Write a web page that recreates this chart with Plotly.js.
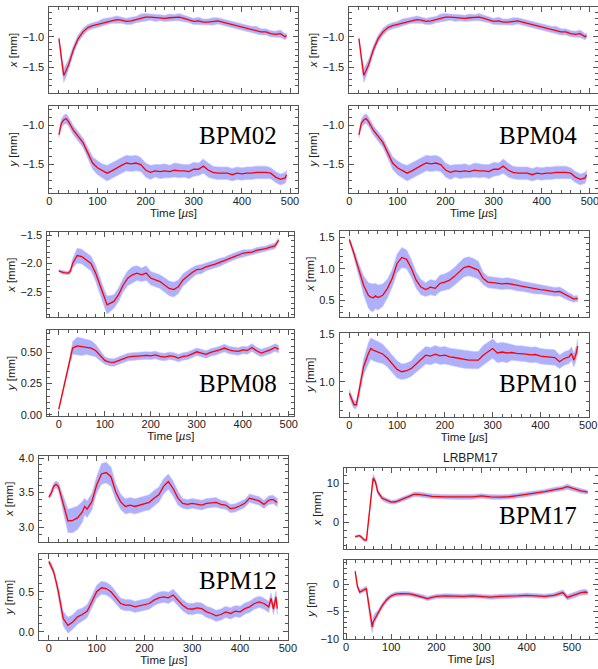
<!DOCTYPE html>
<html><head><meta charset="utf-8">
<script src="https://cdn.plot.ly/plotly-3.0.1.min.js"></script>
<style>html,body{margin:0;padding:0;background:#fff}#plot{width:598px;height:669px}</style>
</head><body><div id="plot"></div>
<script>
// ---------- DATA ----------
// BPM02 (BPM04 shows the same traces)
const t02 = [20,25,30,35,40,50,60,70,80,90,100,110,120,130,140,150,160,170,180,190,200,210,220,230,240,250,260,270,280,290,300,310,320,330,340,350,360,370,380,390,400,410,420,430,440,450,460,470,480,490,493];
const x02 = [-1.03,-1.38,-1.63,-1.55,-1.46,-1.21,-1.03,-0.92,-0.85,-0.82,-0.80,-0.77,-0.75,-0.73,-0.72,-0.73,-0.75,-0.74,-0.72,-0.69,-0.68,-0.68,-0.69,-0.69,-0.70,-0.69,-0.69,-0.68,-0.70,-0.72,-0.75,-0.74,-0.76,-0.76,-0.75,-0.74,-0.76,-0.78,-0.80,-0.82,-0.84,-0.86,-0.88,-0.89,-0.92,-0.92,-0.95,-0.96,-0.95,-1.00,-0.98];
const sx02 = [0.03,0.07,0.11,0.10,0.09,0.07,0.06,0.06,0.05,0.05,0.05,0.06,0.05,0.05,0.06,0.05,0.05,0.06,0.05,0.06,0.06,0.05,0.06,0.05,0.05,0.06,0.05,0.06,0.05,0.05,0.05,0.06,0.05,0.05,0.06,0.05,0.05,0.05,0.06,0.05,0.05,0.05,0.05,0.06,0.05,0.05,0.05,0.05,0.06,0.05,0.04];
const y02 = [-1.12,-0.97,-0.93,-0.91,-0.95,-1.06,-1.14,-1.22,-1.35,-1.48,-1.54,-1.58,-1.61,-1.58,-1.54,-1.51,-1.48,-1.49,-1.48,-1.50,-1.57,-1.60,-1.58,-1.59,-1.58,-1.59,-1.57,-1.58,-1.58,-1.59,-1.56,-1.56,-1.52,-1.57,-1.60,-1.61,-1.61,-1.61,-1.63,-1.61,-1.62,-1.61,-1.61,-1.60,-1.60,-1.60,-1.61,-1.66,-1.69,-1.67,-1.63];
const sy02 = [0.04,0.05,0.06,0.06,0.06,0.06,0.06,0.06,0.07,0.08,0.09,0.09,0.10,0.10,0.10,0.10,0.10,0.10,0.10,0.09,0.09,0.09,0.08,0.09,0.09,0.08,0.09,0.09,0.08,0.09,0.09,0.08,0.09,0.09,0.08,0.08,0.08,0.08,0.08,0.08,0.08,0.08,0.08,0.08,0.08,0.08,0.07,0.07,0.07,0.07,0.06];

// BPM08
const t08 = [0,10,20,25,30,40,50,60,70,80,90,100,105,110,120,130,140,150,160,170,180,190,200,210,220,230,240,250,260,270,280,290,300,310,320,330,340,350,360,370,380,390,400,410,420,430,440,450,460,470,478];
const x08 = [-2.13,-2.16,-2.17,-2.14,-2.00,-1.86,-1.88,-1.94,-2.00,-2.17,-2.41,-2.64,-2.73,-2.71,-2.67,-2.55,-2.38,-2.26,-2.20,-2.17,-2.20,-2.17,-2.26,-2.29,-2.32,-2.38,-2.44,-2.46,-2.41,-2.29,-2.22,-2.16,-2.11,-2.10,-2.06,-2.04,-2.01,-1.98,-1.95,-1.91,-1.88,-1.85,-1.82,-1.81,-1.80,-1.77,-1.76,-1.74,-1.71,-1.69,-1.59];
const sx08 = [0.02,0.03,0.03,0.05,0.08,0.13,0.13,0.13,0.13,0.14,0.14,0.15,0.16,0.14,0.12,0.12,0.12,0.13,0.14,0.13,0.12,0.13,0.12,0.12,0.12,0.13,0.13,0.13,0.12,0.11,0.10,0.09,0.08,0.08,0.07,0.07,0.07,0.07,0.06,0.06,0.06,0.06,0.06,0.05,0.05,0.05,0.05,0.05,0.05,0.05,0.04];
const y08 = [0.045,0.20,0.37,0.45,0.535,0.553,0.545,0.543,0.535,0.516,0.473,0.436,0.428,0.422,0.420,0.433,0.447,0.463,0.468,0.468,0.473,0.476,0.473,0.480,0.468,0.463,0.473,0.468,0.455,0.468,0.473,0.489,0.505,0.495,0.484,0.500,0.508,0.520,0.535,0.520,0.513,0.508,0.520,0.516,0.540,0.513,0.495,0.508,0.520,0.540,0.527];
const sy08 = [0.01,0.01,0.02,0.03,0.05,0.07,0.07,0.06,0.06,0.05,0.04,0.03,0.03,0.03,0.03,0.03,0.03,0.03,0.03,0.03,0.03,0.03,0.03,0.03,0.03,0.03,0.03,0.03,0.03,0.03,0.03,0.03,0.03,0.03,0.03,0.03,0.03,0.03,0.03,0.03,0.03,0.03,0.03,0.03,0.03,0.03,0.03,0.03,0.03,0.03,0.03];

// BPM10
const t10 = [0,5,10,15,20,30,40,45,50,55,60,70,80,90,100,110,120,130,140,150,160,170,180,190,200,210,220,230,240,250,260,270,280,290,300,310,320,330,340,350,360,370,380,390,400,410,420,430,440,450,460,465,470,475,478];
const x10 = [1.466,1.36,1.24,1.11,0.98,0.74,0.58,0.55,0.54,0.57,0.545,0.58,0.69,0.85,1.085,1.18,1.15,1.005,0.82,0.71,0.67,0.71,0.69,0.77,0.79,0.82,0.88,0.95,1.02,1.04,1.015,0.98,0.85,0.79,0.78,0.77,0.76,0.77,0.76,0.74,0.725,0.71,0.69,0.68,0.67,0.66,0.65,0.635,0.64,0.60,0.555,0.54,0.52,0.53,0.525];
const sx10 = [0.04,0.05,0.06,0.08,0.10,0.15,0.20,0.22,0.22,0.20,0.20,0.18,0.15,0.14,0.15,0.16,0.15,0.14,0.13,0.12,0.11,0.12,0.12,0.13,0.13,0.14,0.14,0.15,0.15,0.15,0.15,0.14,0.10,0.09,0.09,0.09,0.09,0.09,0.09,0.09,0.08,0.08,0.08,0.08,0.07,0.07,0.07,0.07,0.07,0.07,0.06,0.06,0.05,0.05,0.05];
const y10 = [0.884,0.815,0.764,0.764,0.884,1.158,1.295,1.346,1.33,1.32,1.31,1.29,1.245,1.19,1.13,1.106,1.116,1.14,1.19,1.233,1.277,1.267,1.288,1.27,1.277,1.26,1.253,1.243,1.233,1.226,1.226,1.226,1.277,1.31,1.346,1.30,1.31,1.30,1.305,1.295,1.295,1.288,1.28,1.284,1.267,1.26,1.26,1.253,1.21,1.243,1.26,1.295,1.226,1.30,1.37];
const sy10 = [0.04,0.04,0.04,0.04,0.05,0.08,0.11,0.11,0.11,0.11,0.11,0.10,0.09,0.09,0.09,0.08,0.08,0.08,0.09,0.09,0.09,0.09,0.09,0.09,0.09,0.09,0.09,0.09,0.09,0.09,0.09,0.09,0.10,0.10,0.10,0.10,0.10,0.10,0.08,0.08,0.08,0.08,0.08,0.08,0.08,0.08,0.08,0.08,0.07,0.07,0.07,0.07,0.07,0.07,0.07];

// BPM12
const t12 = [0,5,10,15,20,30,40,50,60,70,75,80,90,100,110,120,130,140,150,160,170,180,190,200,210,220,230,240,250,260,270,280,290,300,310,320,330,340,350,360,370,380,390,400,410,420,430,440,450,460,465,470,475,478];
const x12 = [3.44,3.49,3.59,3.62,3.59,3.345,3.09,3.10,3.135,3.22,3.30,3.26,3.37,3.61,3.77,3.79,3.73,3.51,3.37,3.30,3.32,3.30,3.32,3.345,3.36,3.42,3.47,3.59,3.66,3.56,3.42,3.345,3.33,3.345,3.33,3.32,3.345,3.355,3.36,3.33,3.32,3.27,3.28,3.31,3.345,3.42,3.40,3.38,3.33,3.39,3.40,3.40,3.37,3.36];
const sx12 = [0.03,0.05,0.05,0.05,0.06,0.10,0.17,0.18,0.17,0.15,0.12,0.12,0.12,0.12,0.15,0.15,0.14,0.12,0.11,0.11,0.11,0.11,0.11,0.11,0.11,0.11,0.11,0.11,0.11,0.11,0.10,0.07,0.07,0.07,0.07,0.07,0.07,0.07,0.07,0.06,0.06,0.06,0.06,0.06,0.06,0.06,0.06,0.06,0.06,0.06,0.06,0.06,0.06,0.06];
const y12 = [0.875,0.82,0.75,0.63,0.50,0.167,0.083,0.125,0.1875,0.217,0.235,0.258,0.375,0.50,0.55,0.54,0.50,0.425,0.354,0.333,0.333,0.3125,0.325,0.34,0.354,0.396,0.425,0.4375,0.425,0.46,0.396,0.333,0.29,0.283,0.30,0.29,0.25,0.23,0.20,0.217,0.25,0.23,0.258,0.25,0.29,0.3125,0.354,0.375,0.354,0.3125,0.417,0.283,0.4375,0.29];
const sy12 = [0.02,0.04,0.04,0.04,0.05,0.09,0.10,0.09,0.09,0.08,0.08,0.08,0.08,0.08,0.08,0.08,0.08,0.07,0.07,0.07,0.07,0.07,0.07,0.07,0.07,0.07,0.07,0.07,0.07,0.07,0.07,0.07,0.07,0.07,0.07,0.07,0.07,0.07,0.07,0.07,0.07,0.07,0.07,0.07,0.07,0.07,0.07,0.07,0.07,0.07,0.07,0.07,0.07,0.07];

// BPM17
const t17 = [20,25,30,35,40,45,50,55,58,60,65,70,80,90,100,110,120,130,140,150,160,170,180,190,200,220,240,260,280,300,320,340,360,380,400,420,440,460,480,490,500,520,530,535];
const x17 = [-3.7,-3.5,-3.45,-3.9,-4.57,-4.6,0.17,6.2,9.5,11.4,10.5,7.9,6.2,5.6,5.2,5.3,5.8,6.2,6.6,7.2,7.2,7.1,6.9,6.7,6.6,6.55,6.55,6.5,6.55,6.8,6.55,6.5,6.6,6.9,7.2,7.5,7.9,8.4,8.8,9.2,8.8,8.1,7.9,7.8];
const sx17 = [0.3,0.3,0.3,0.3,0.4,0.4,0.6,0.9,1.0,1.0,0.9,0.7,0.6,0.6,0.5,0.5,0.6,0.6,0.6,0.6,0.6,0.6,0.6,0.6,0.6,0.6,0.6,0.6,0.6,0.6,0.6,0.6,0.6,0.6,0.6,0.6,0.6,0.6,0.6,0.7,0.6,0.6,0.6,0.5];
const y17 = [2.4,-0.3,-1.4,-1.2,-0.9,-0.8,-3.6,-6.9,-7.8,-6.9,-6.0,-5.4,-3.9,-2.8,-2.1,-1.8,-1.7,-1.7,-1.75,-1.9,-2.1,-2.3,-2.6,-2.4,-2.2,-2.1,-2.2,-2.2,-2.1,-2.2,-2.35,-2.2,-2.2,-2.1,-2.0,-2.05,-2.2,-2.0,-1.5,-2.4,-2.1,-1.5,-1.4,-1.5];
const sy17 = [0.3,0.4,0.4,0.4,0.4,0.5,0.7,1.0,1.1,1.0,0.8,0.6,0.5,0.5,0.4,0.4,0.4,0.4,0.4,0.4,0.4,0.4,0.4,0.4,0.4,0.4,0.4,0.4,0.4,0.4,0.4,0.4,0.4,0.4,0.4,0.4,0.4,0.4,0.5,0.5,0.5,0.5,0.5,0.4];

// Tick labels
const timeTicks = [0,100,200,300,400,500];
const yt02x = [-1.5,-1.0];
const yt02y = [-1.5,-1.0];
const yt08x = [-2.5,-2.0,-1.5];
const yt08y = [0.00,0.25,0.50];
const yt10x = [0.5,1.0,1.5];
const yt10y = [1.0,1.5];
const yt12x = [3.0,3.5,4.0];
const yt12y = [0.0,0.5];
const yt17x = [0,10];
const yt17y = [-10,-5,0];

// ---------- PANELS (layout / style) ----------
const W = 598, H = 669;
const panels = [
  {t:t02, v:x02, s:sx02, box:[49.3,297.7,7.3,92.7],   xr:[0,516],   yr:[-1.91,-0.52], tv:yt02x, dec:1, mn:0.1, lab:'<i>x</i> [mm]', bottom:false},
  {t:t02, v:y02, s:sy02, box:[49.3,297.7,106,192.7],  xr:[0,516],   yr:[-1.86,-0.75], tv:yt02y, dec:1, mn:0.1, lab:'<i>y</i> [mm]', bottom:true},
  {t:t02, v:x02, s:sx02, box:[349.3,597.6,7.3,92.7],  xr:[0,516],   yr:[-1.91,-0.52], tv:yt02x, dec:1, mn:0.1, lab:'<i>x</i> [mm]', bottom:false},
  {t:t02, v:y02, s:sy02, box:[349.3,597.6,106,192.7], xr:[0,516],   yr:[-1.86,-0.75], tv:yt02y, dec:1, mn:0.1, lab:'<i>y</i> [mm]', bottom:true},
  {t:t08, v:x08, s:sx08, box:[47.3,294.3,232.3,317.3],xr:[-25,512], yr:[-2.95,-1.45], tv:yt08x, dec:1, mn:0.1, lab:'<i>x</i> [mm]', bottom:false},
  {t:t08, v:y08, s:sy08, box:[47.3,294.3,330,416],    xr:[-25,512], yr:[-0.01,0.68],  tv:yt08y, dec:2, mn:0.05,lab:'<i>y</i> [mm]', bottom:true},
  {t:t10, v:x10, s:sx10, box:[339.7,588.7,231,316.7], xr:[-20,501], yr:[0.24,1.60],   tv:yt10x, dec:1, mn:0.1, lab:'<i>x</i> [mm]', bottom:false},
  {t:t10, v:y10, s:sy10, box:[339.7,588.7,332.7,416.7],xr:[-20,501],yr:[0.64,1.51],   tv:yt10y, dec:1, mn:0.1, lab:'<i>y</i> [mm]', bottom:true},
  {t:t12, v:x12, s:sx12, box:[39.3,288.3,456,541.7],  xr:[-20,501], yr:[2.79,4.03],   tv:yt12x, dec:1, mn:0.1, lab:'<i>x</i> [mm]', bottom:false},
  {t:t12, v:y12, s:sy12, box:[39.3,288.3,554,640],    xr:[-20,501], yr:[-0.10,0.97],  tv:yt12y, dec:1, mn:0.1, lab:'<i>y</i> [mm]', bottom:true},
  {t:t17, v:x17, s:sx17, box:[344.3,597.6,467.7,549], xr:[-4,557],  yr:[-6.9,14.1],   tv:yt17x, dec:0, mn:2,   lab:'<i>x</i> [mm]', bottom:false},
  {t:t17, v:y17, s:sy17, box:[344.3,597.6,560,639],   xr:[-4,557],  yr:[-10.05,4.5],  tv:yt17y, dec:0, mn:1,   lab:'<i>y</i> [mm]', bottom:true}
];

const sans = 'Liberation Sans, Arial, sans-serif';
const axisCol = '#555';
const txtCol = '#222';
const fmt = (v, d) => (v < 0 ? '\u2212' : '') + Math.abs(v).toFixed(d);
const traces = [];
const layout = {
  width: W, height: H, margin:{l:0,r:0,t:0,b:0},
  paper_bgcolor:'#fff', plot_bgcolor:'#fff', showlegend:false,
  font:{family:sans, size:11, color:txtCol},
  annotations: []
};

panels.forEach((p, i) => {
  const n = i + 1;
  const sfx = (n === 1 ? '' : String(n));
  const xa = 'x' + sfx, ya = 'y' + sfx;
  const len = Math.min(p.t.length, p.v.length, p.s.length);
  const tt = p.t.slice(0, len), vv = p.v.slice(0, len), ss = p.s.slice(0, len);
  const up = vv.map((v, k) => v + ss[k]);
  const lo = vv.map((v, k) => v - ss[k]);
  traces.push({
    x: tt.concat(tt.slice().reverse()),
    y: up.concat(lo.slice().reverse()),
    xaxis: xa, yaxis: ya, mode:'lines', fill:'toself',
    fillcolor:'#aeb0fb', line:{width:0.6, color:'#c4c6fc'}, hoverinfo:'skip'
  });
  traces.push({x: tt, y: vv, xaxis: xa, yaxis: ya, mode:'lines', line:{color:'#ff0000', width:1.3}});

  const [l, r, top, bot] = p.box;
  const common = {
    showline:true, linecolor:axisCol, linewidth:1, mirror:'ticks',
    ticks:'inside', ticklen:5, tickwidth:1, tickcolor:axisCol,
    showgrid:false, zeroline:false, ticklabeloverflow:'allow',
    tickfont:{family:sans, size:11, color:txtCol}
  };
  layout['xaxis' + sfx] = Object.assign({}, common, {
    domain:[l / W, r / W], range:p.xr, anchor: ya,
    tickmode:'array', tickvals:timeTicks, ticktext:timeTicks.map(String),
    minor:{dtick:20, tick0:0, ticks:'inside', ticklen:3, tickcolor:axisCol, showgrid:false},
    showticklabels: p.bottom, ticklabelstandoff: -2,
    title: p.bottom ? {text:'Time [<i>µ</i>s]', font:{family:sans, size:11.5, color:txtCol}, standoff:0} : {text:''}
  });
  layout['yaxis' + sfx] = Object.assign({}, common, {
    domain:[1 - bot / H, 1 - top / H], range:p.yr, anchor: xa,
    tickmode:'array', tickvals:p.tv, ticktext:p.tv.map(v => fmt(v, p.dec)),
    minor:{dtick:p.mn, tick0:0, ticks:'inside', ticklen:3, tickcolor:axisCol, showgrid:false},
    ticklabelstandoff: 2,
    title:{text:p.lab, font:{family:sans, size:11.5, color:txtCol}, standoff:2}
  });
});

// BPM name labels
const names = ['BPM02','BPM04','BPM08','BPM10','BPM12','BPM17'];
const namePos = [[237.5,135.6],[537.5,135.6],[237.5,383],[537.5,383],[237.5,580],[537.5,515]];
names.forEach((nm, k) => {
  layout.annotations.push({
    text:nm, xref:'paper', yref:'paper', x:namePos[k][0] / W, y:1 - namePos[k][1] / H,
    xanchor:'center', yanchor:'middle', showarrow:false,
    font:{family:'Liberation Serif, Times New Roman, serif', size:25, color:'#000'}
  });
});
layout.annotations.push({
  text:'LRBPM17', xref:'paper', yref:'paper', x:470 / W, y:1 - 458 / H,
  xanchor:'center', yanchor:'middle', showarrow:false,
  font:{family:sans, size:12, color:txtCol}
});

Plotly.newPlot('plot', traces, layout, {displayModeBar:false, staticPlot:true});
</script>
</body></html>
